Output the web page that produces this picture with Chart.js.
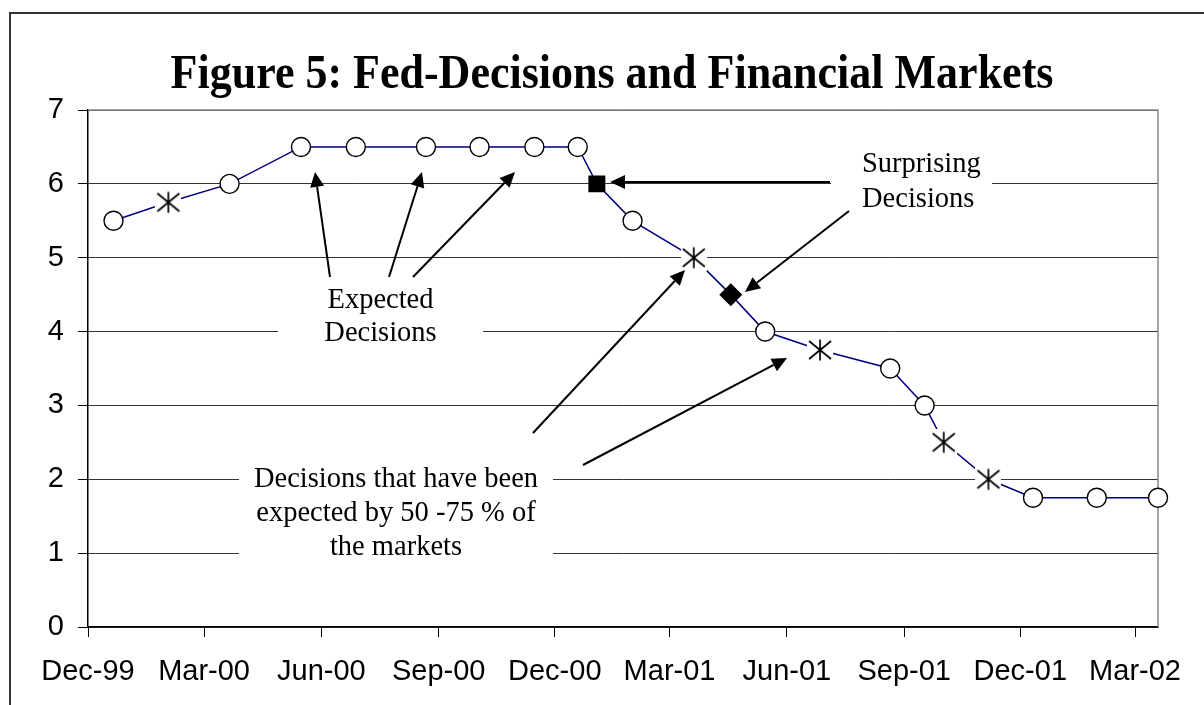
<!DOCTYPE html>
<html><head><meta charset="utf-8">
<script src="https://cdn.jsdelivr.net/npm/chart.js@4.4.1/dist/chart.umd.min.js"></script>
<style>html,body{margin:0;padding:0;background:#fff;}canvas{display:block;}</style>
</head><body>
<canvas id="c" width="1204" height="705"></canvas>
<script>
// ---- data ----
const meetingDates = ['1999-12-21','2000-02-02','2000-03-21','2000-05-16','2000-06-28','2000-08-22','2000-10-03','2000-11-15','2000-12-19','2001-01-03','2001-01-31','2001-03-20','2001-04-18','2001-05-15','2001-06-27','2001-08-21','2001-09-17','2001-10-02','2001-11-06','2001-12-11','2002-01-30','2002-03-19'];
const fedRate = [5.5,5.75,6.0,6.5,6.5,6.5,6.5,6.5,6.5,6.0,5.5,5.0,4.5,4.0,3.75,3.5,3.0,2.5,2.0,1.75,1.75,1.75];
// E = expected, P = expected by 50-75 %, S1/S2 = surprising
const decisionType = ['E','P','E','E','E','E','E','E','E','S1','E','P','S2','E','P','E','E','P','P','E','E','E'];
const tickDates = ['1999-12-01','2000-03-01','2000-06-01','2000-09-01','2000-12-01','2001-03-01','2001-06-01','2001-09-01','2001-12-01','2002-03-01'];
const tickLabels = ['Dec-99','Mar-00','Jun-00','Sep-00','Dec-00','Mar-01','Jun-01','Sep-01','Dec-01','Mar-02'];
const axisStart = '1999-12-01';
const axisEnd = '2002-03-19';
const yMin = 0, yMax = 7, yStep = 1;
const titleText = 'Figure 5: Fed-Decisions and Financial Markets';
const noteExpected = ['Expected','Decisions'];
const noteSurprising = ['Surprising','Decisions'];
const notePartial = ['Decisions that have been','expected by 50 -75 % of','the markets'];

function dayNum(s){ const p = s.split('-').map(Number); return Date.UTC(p[0], p[1]-1, p[2]) / 86400000; }

function makeStar(){
  const c = document.createElement('canvas'); c.width = 26; c.height = 26;
  const g = c.getContext('2d');
  g.fillStyle = '#fff'; g.fillRect(0,0,26,26);
  g.strokeStyle = '#000'; g.lineWidth = 1.7;
  g.beginPath();
  g.moveTo(2,4); g.lineTo(24,22);
  g.moveTo(24,4); g.lineTo(2,22);
  g.moveTo(13,2.5); g.lineTo(13,23.5);
  g.stroke();
  return c;
}
const starImg = makeStar();
const styleFor = {E:'circle', P:starImg, S1:'rect', S2:'rectRot'};
const radiusFor = {E:9.5, P:10, S1:11, S2:10.5};
const fillFor = {E:'#fff', P:'#fff', S1:'#000', S2:'#000'};

const serif = '"Liberation Serif","Times New Roman",serif';
const sans = '"Liberation Sans",Arial,sans-serif';

function arrow(ctx,x1,y1,x2,y2){
  const a = Math.atan2(y2-y1, x2-x1), L = 15, W = 7;
  const bx = x2 - L*Math.cos(a), by = y2 - L*Math.sin(a);
  ctx.beginPath(); ctx.moveTo(x1,y1); ctx.lineTo(bx,by); ctx.stroke();
  ctx.beginPath(); ctx.moveTo(x2,y2);
  ctx.lineTo(bx + W*Math.sin(a), by - W*Math.cos(a));
  ctx.lineTo(bx - W*Math.sin(a), by + W*Math.cos(a));
  ctx.closePath(); ctx.fill();
}

const boxes = [
  {rect:[278,281,205,70], lines:noteExpected, x:380.5, base:[308,341], align:'center'},
  {rect:[831,145,161,72], lines:noteSurprising, x:862, base:[172,207], align:'left'},
  {rect:[239,455,314,112], lines:notePartial, x:396, base:[487,521,555], align:'center'}
];
const arrows = [
  [330,277,315,172],[389,277,422,172],[413,277,515,172],
  [830,182,610,182],[849,211,745,292],
  [533,433,685,270],[583,465,787,358]
];

const decor = {
  id:'decor',
  beforeDraw(chart){
    const ctx = chart.ctx; ctx.save();
    ctx.fillStyle = '#fff'; ctx.fillRect(0,0,chart.width,chart.height);
    ctx.strokeStyle = '#333'; ctx.lineWidth = 2;
    ctx.beginPath(); ctx.moveTo(10,720); ctx.lineTo(10,13); ctx.lineTo(1220,13); ctx.stroke();
    ctx.restore();
  },
  beforeDatasetsDraw(chart){
    const ctx = chart.ctx, a = chart.chartArea; ctx.save();
    ctx.strokeStyle = '#888'; ctx.lineWidth = 1.5;
    ctx.beginPath(); ctx.moveTo(a.left, a.top); ctx.lineTo(a.right, a.top); ctx.lineTo(a.right, a.bottom); ctx.stroke();
    ctx.fillStyle = '#fff';
    boxes.forEach(b => ctx.fillRect(b.rect[0], b.rect[1], b.rect[2], b.rect[3]));
    ctx.restore();
  },
  afterDatasetsDraw(chart){
    const ctx = chart.ctx; ctx.save();
    ctx.fillStyle = '#000'; ctx.font = '28.5px ' + serif; ctx.textBaseline = 'alphabetic';
    boxes.forEach(b => { ctx.textAlign = b.align; b.lines.forEach((t,i) => ctx.fillText(t, b.x, b.base[i])); });
    ctx.strokeStyle = '#000'; ctx.lineWidth = 2;
    arrows.forEach(r => arrow(ctx, r[0], r[1], r[2], r[3]));
    ctx.translate(612, 88); ctx.scale(1, 1.1);
    ctx.font = 'bold 44px ' + serif; ctx.textAlign = 'center';
    ctx.fillText(titleText, 0, 0);
    ctx.restore();
  }
};

new Chart(document.getElementById('c'), {
  type: 'line',
  data: {
    datasets: [{
      data: meetingDates.map((d,i) => ({x: dayNum(d), y: fedRate[i]})),
      borderColor: '#000080', borderWidth: 1.5, tension: 0, fill: false, clip: false,
      pointStyle: decisionType.map(t => styleFor[t]),
      pointRadius: decisionType.map(t => radiusFor[t]),
      pointBackgroundColor: decisionType.map(t => fillFor[t]),
      pointBorderColor: '#000', pointBorderWidth: 1.4
    }]
  },
  options: {
    responsive: false, animation: false, events: [], devicePixelRatio: 1,
    layout: {padding: {top: 110, right: 46, bottom: 0, left: 0}},
    plugins: {legend: {display: false}, title: {display: false}, tooltip: {enabled: false}},
    scales: {
      x: {
        type: 'linear', min: dayNum(axisStart), max: dayNum(axisEnd),
        afterBuildTicks: s => { s.ticks = tickDates.map(d => ({value: dayNum(d)})); },
        ticks: {
          autoSkip: false, maxRotation: 0, minRotation: 0, padding: 18, color: '#000',
          font: {family: sans, size: 29},
          callback: v => { const i = tickDates.findIndex(d => dayNum(d) === v); return i >= 0 ? tickLabels[i] : ''; }
        },
        grid: {drawOnChartArea: false, tickLength: 10, color: '#000', lineWidth: 1},
        border: {color: '#000', width: 1.5},
        afterFit: s => { s.height = 78; }
      },
      y: {
        min: yMin, max: yMax,
        ticks: {stepSize: yStep, padding: 14, color: '#000', font: {family: sans, size: 29}},
        grid: {color: '#333', lineWidth: 1, tickLength: 10, tickColor: '#000'},
        border: {color: '#000', width: 1.5},
        afterFit: s => { s.width = 88; }
      }
    }
  },
  plugins: [decor]
});
</script>
</body></html>
